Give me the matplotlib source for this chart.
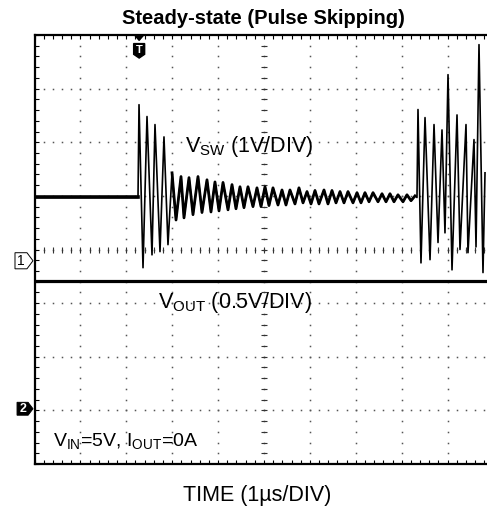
import numpy as np
import matplotlib
matplotlib.use('Agg')
import matplotlib.pyplot as plt
from matplotlib.patches import Polygon

plt.rcParams['font.family'] = ['Liberation Sans', 'DejaVu Sans']
plt.rcParams['mathtext.fontset'] = 'custom'
plt.rcParams['mathtext.rm'] = 'Liberation Sans'

# scope settings
time_per_div = 1.0      # us/div
sw_per_div = 1.0        # V/div
out_per_div = 0.5       # V/div
ch1_offset = 3.79       # div from bottom
ch2_offset = 1.03
trig_time = 2.28        # us

# VSW trace (us, V)
sw_t = [0.00, 0.50, 1.00, 1.50, 2.00, 2.255,
        2.277, 2.364, 2.451, 2.560, 2.625, 2.734, 2.821, 2.908,
        2.996, 3.083, 3.192, 3.257, 3.366, 3.453, 3.562, 3.649, 3.758, 3.845,
        3.932, 4.020, 4.107, 4.216, 4.303, 4.390, 4.477, 4.564, 4.651, 4.760,
        4.847, 4.935, 5.022, 5.109, 5.196, 5.305, 5.392, 5.479, 5.566, 5.675,
        5.762, 5.850, 5.937, 6.024, 6.111, 6.198, 6.307, 6.394, 6.481, 6.569,
        6.656, 6.743, 6.830, 6.939, 7.026, 7.113, 7.200, 7.288, 7.375, 7.484,
        7.571, 7.658, 7.745, 7.832, 7.919, 8.028, 8.115, 8.203, 8.290, 8.333,
        8.355, 8.420, 8.508, 8.617, 8.704, 8.791, 8.878, 8.943, 9.009, 9.096,
        9.205, 9.270, 9.401, 9.444, 9.575, 9.619, 9.684, 9.771, 9.815]
sw_v = [1.18, 1.18, 1.18, 1.18, 1.18, 1.18,
        2.91, -0.13, 2.69, 0.11, 2.54, 0.17, 2.31, 0.30,
        1.64, 0.76, 1.57, 0.80, 1.55, 0.86, 1.57, 0.90, 1.51, 0.91,
        1.47, 0.93, 1.46, 0.95, 1.42, 0.97, 1.38, 0.99, 1.38, 1.01,
        1.36, 1.01, 1.38, 1.03, 1.36, 1.04, 1.32, 1.04, 1.32, 1.06,
        1.36, 1.08, 1.29, 1.06, 1.31, 1.06, 1.32, 1.06, 1.31, 1.08,
        1.29, 1.08, 1.29, 1.08, 1.27, 1.08, 1.27, 1.10, 1.27, 1.10,
        1.25, 1.10, 1.25, 1.10, 1.23, 1.10, 1.23, 1.12, 1.21, 1.18,
        2.82, -0.04, 2.67, 0.02, 2.54, 0.34, 2.44, 0.52, 3.47, -0.17,
        2.72, 0.21, 2.54, 0.15, 2.26, 0.26, 4.03, -0.22, 1.64]

# VOUT trace (us, V)
out_t = [0.0, 2.5, 5.0, 7.5, 9.9]
out_v = [1.19, 1.19, 1.19, 1.19, 1.19]

fig = plt.figure(figsize=(4.87, 5.15), dpi=100)
ax = fig.add_axes([34.5 / 487, 51 / 515, 452.5 / 487, 429 / 515])
ax.set_xlim(0, 452.5 / 45.9)
ax.set_ylim(0, 8)

# graticule dots
for gx in range(1, 10):
    yy = np.arange(0, 8.01, 0.2)
    ax.plot(np.full_like(yy, gx), yy, ls='none', marker='s', ms=1.1,
            color='#555555', mec='none', zorder=1)
for gy in range(1, 8):
    xx = np.arange(0, 10.01, 0.2)
    ax.plot(xx, np.full_like(xx, gy), ls='none', marker='s', ms=1.1,
            color='#555555', mec='none', zorder=1)
# center cross ticks
yy = np.arange(0, 8.01, 0.2)
ax.plot(np.full_like(yy, 5), yy, ls='none', marker='_', ms=5, mew=0.8,
        color='#333333', zorder=1)
xx = np.arange(0, 10.01, 0.2)
ax.plot(xx, np.full_like(xx, 4), ls='none', marker='|', ms=5, mew=0.8,
        color='#333333', zorder=1)

# traces
sw_t = np.array(sw_t) / time_per_div
sw_y = ch1_offset + np.array(sw_v) / sw_per_div
out_y = ch2_offset + np.array(out_v) / out_per_div
ax.plot(sw_t, sw_y, color='black', lw=1.2, zorder=3)
quiet = (sw_t <= 2.256)
ax.plot(sw_t[quiet], sw_y[quiet], color='black', lw=2.6, zorder=3)
ring = (sw_t >= 2.99) & (sw_t <= 8.30)
ax.plot(sw_t[ring], sw_y[ring], color='black', lw=2.0, zorder=3)
ax.plot(np.array(out_t) / time_per_div, out_y, color='black', lw=2.3, zorder=3)

# frame
for s in ['left', 'top', 'bottom']:
    ax.spines[s].set_linewidth(1.6)
ax.spines['right'].set_visible(False)
ax.set_xticks(np.arange(0, 10, 0.2))
ax.set_yticks(np.arange(0, 8.01, 0.2))
ax.tick_params(which='both', direction='in', length=3, width=0.8,
               top=True, bottom=True, left=True, right=False,
               labelbottom=False, labelleft=False)

# labels inside
ax.text(3.28, 5.92, r'$\mathregular{V_{SW}}$ (1V/DIV)', fontsize=15.5,
        va='center', ha='left', zorder=4)
ax.text(2.69, 3.02, r'$\mathregular{V_{OUT}}$ (0.5V/DIV)', fontsize=15.5,
        va='center', ha='left', zorder=4)
ax.text(0.40, 0.42, r'$\mathregular{V_{IN}}$=5V, $\mathregular{I_{OUT}}$=0A',
        fontsize=14, va='center', ha='left', zorder=4)

# channel markers
m1 = Polygon([(-0.425, ch1_offset - 0.15), (-0.164, ch1_offset - 0.15),
              (-0.033, ch1_offset), (-0.164, ch1_offset + 0.15),
              (-0.425, ch1_offset + 0.15)], closed=True, fc='white',
             ec='black', lw=0.7, clip_on=False)
ax.add_patch(m1)
ax.text(-0.29, ch1_offset, '1', fontsize=10, ha='center', va='center',
        clip_on=False)
m2 = Polygon([(-0.38, ch2_offset - 0.12), (-0.14, ch2_offset - 0.12),
              (-0.033, ch2_offset), (-0.14, ch2_offset + 0.12),
              (-0.38, ch2_offset + 0.12)], closed=True, fc='black',
             ec='black', lw=0.7, clip_on=False)
ax.add_patch(m2)
ax.text(-0.25, ch2_offset, '2', fontsize=9, ha='center', va='center',
        color='white', fontweight='bold', clip_on=False)

# trigger marker
ax.add_patch(Polygon([(trig_time - 0.1, 8.0), (trig_time + 0.1, 8.0),
                      (trig_time, 7.9)], closed=True, fc='black', ec='black',
                     clip_on=False, zorder=5))
ax.add_patch(Polygon([(trig_time - 0.12, 7.84), (trig_time + 0.12, 7.84),
                      (trig_time + 0.12, 7.64), (trig_time, 7.57),
                      (trig_time - 0.12, 7.64)], closed=True, fc='black',
                     ec='black', zorder=5))
ax.text(trig_time, 7.72, 'T', fontsize=8, color='white', fontweight='bold',
        ha='center', va='center', zorder=6)

fig.text(263.5 / 487, 1 - 18 / 515, 'Steady-state (Pulse Skipping)',
         fontsize=14.5, fontweight='bold', ha='center', va='center')
fig.text(257 / 487, 1 - 495 / 515, 'TIME (1\u00b5s/DIV)', fontsize=15.5,
         ha='center', va='center')

fig.savefig('out.png', dpi=100)
